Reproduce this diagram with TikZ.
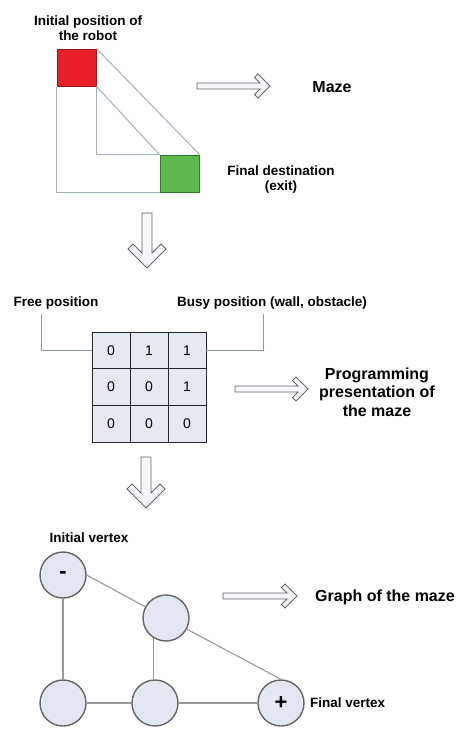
\documentclass[tikz,border=0pt]{standalone}
\usepackage{fontspec}
\setmainfont{Liberation Sans}
\usetikzlibrary{calc}
\definecolor{mazeline}{HTML}{A2B1C2}
\definecolor{leadline}{HTML}{8C9AAA}
\definecolor{cellfill}{HTML}{E5E9F2}
\definecolor{vfill}{HTML}{E3E7F1}
\definecolor{arrfill}{HTML}{F5F7FA}
\definecolor{redsq}{HTML}{E8202A}
\definecolor{redbd}{HTML}{9A1A1A}
\definecolor{greensq}{HTML}{5DB84C}
\definecolor{greenbd}{HTML}{2F7A2C}
\newcommand\hollowright[3]{% x0, x1, c
  \draw[hollow] (#1,{#3-3}) -- ({#2-10},{#3-3}) -- ({#2-15.5},{#3-8.5}) -- ({#2-12},{#3-12}) -- (#2,#3)
   -- ({#2-12},{#3+12}) -- ({#2-15.5},{#3+8.5}) -- ({#2-10},{#3+3}) -- (#1,{#3+3}) -- cycle;}
\newcommand\hollowdown[3]{% cx, top, tip
  \draw[hollow] ({#1-5},#2) -- ({#1+5},#2) -- ({#1+5},{#3-15}) -- ({#1+14},{#3-24}) -- ({#1+19},{#3-19}) -- (#1,#3)
   -- ({#1-19},{#3-19}) -- ({#1-14},{#3-24}) -- ({#1-5},{#3-15}) -- cycle;}
\begin{document}
\begin{tikzpicture}[x=1pt,y=-1pt,
  hollow/.style={draw=black!60,fill=arrfill,line width=0.9pt,line join=miter},
  small/.style={font=\fontsize{13.5}{15}\selectfont\bfseries,align=center,inner sep=0pt},
  big/.style={font=\fontsize{16}{18.5}\selectfont\bfseries,align=center,inner sep=0pt},
  maze/.style={draw=mazeline,line width=1pt},
  lead/.style={draw=leadline,line width=1pt},
  cell/.style={draw=black!85,fill=cellfill,line width=0.9pt,minimum width=38pt,minimum height=36.67pt,inner sep=0pt,font=\fontsize{14}{16}\selectfont},
  vertex/.style={circle,draw=black!60,fill=vfill,line width=1.4pt,minimum size=46pt,inner sep=0pt,font=\fontsize{22}{22}\selectfont\bfseries},
  gedge/.style={draw=black!40,line width=1.1pt}]
\useasboundingbox (0,0) rectangle (457,729);
% --- top: maze ---
\node[small] (lblinit) at (88,28) {Initial position of\\the robot};
\node[draw=redbd,fill=redsq,line width=1pt,minimum width=39pt,minimum height=37pt,inner sep=0pt] (start) at (76.5,67.5) {};
\node[draw=greenbd,fill=greensq,line width=1pt,minimum width=39pt,minimum height=37pt,inner sep=0pt] (goal) at (179.5,173.5) {};
\draw[maze] (start.south west) -- (start.south west |- goal.south) -- (goal.south west);
\draw[maze] (start.south east) -- (start.south east |- goal.north) -- (goal.north west);
\draw[maze] (start.north east) -- (goal.north east);
\draw[maze] (start.south east) -- (goal.north west);
\node[small] (lblfinal) at (281,180) {Final destination\\(exit)};
\hollowright{197}{270}{86}
\node[big] (lblmaze) at (332,87) {Maze};
\hollowdown{147}{213}{268}
% --- middle: matrix ---
\node[small] (lblfree) at (56,303) {Free position};
\node[small] (lblbusy) at (272,303) {Busy position (wall, obstacle)};
\foreach \r/\a/\b/\c [count=\i] in {0/0/1/1,1/0/0/1,2/0/0/0}{
  \node[cell] (c\i1) at (111,{350.3+36.67*\r}) {\a};
  \node[cell] (c\i2) at (149,{350.3+36.67*\r}) {\b};
  \node[cell] (c\i3) at (187,{350.3+36.67*\r}) {\c};
}
\coordinate (freeTop) at (41,314);
\coordinate (busyTop) at (263,314);
\draw[lead] (freeTop) |- (c11.west);
\draw[lead] (busyTop) |- (c13.east);
\hollowright{235}{308}{389}
\node[big] (lblprog) at (377,392) {Programming\\presentation of\\the maze};
\hollowdown{146}{457}{508}
% --- bottom: graph ---
\node[small] (lblinitv) at (89,538) {Initial vertex};
\node[vertex] (v1) at (63,575) {-};
\node[vertex] (v2) at (166,618) {};
\node[vertex] (v3) at (63,703) {};
\node[vertex] (v4) at (155,703) {};
\node[vertex] (v5) at (281,703) {+};
\draw[gedge] (v1.east) -- (v2);
\draw[gedge] (v1) -- (v3);
\draw[gedge] (v2.238) -- (v2.238 |- v4.north);
\draw[gedge] (v2) -- (v5.north);
\draw[gedge] (v3) -- (v4);
\draw[gedge] (v4) -- (v5);
\node[small,anchor=west] (lblfinalv) at (310,703) {Final vertex};
\hollowright{223}{297}{596}
\node[big] (lblgraph) at (385,597) {Graph of the maze};
\end{tikzpicture}
\end{document}
